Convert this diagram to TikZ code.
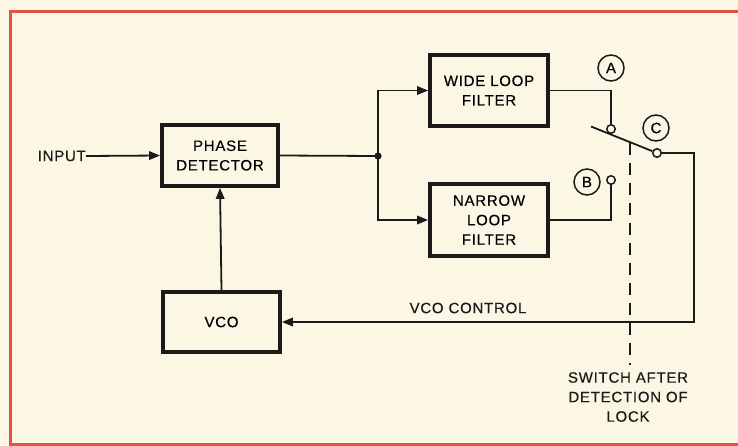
\documentclass[tikz,border=0pt]{standalone}
\usepackage{fontspec}
\setmainfont[LetterSpace=5,FakeBold=0.4]{Liberation Sans}
\usetikzlibrary{arrows.meta}
\definecolor{paper}{HTML}{FBF7E4}
\definecolor{frame}{HTML}{E0553F}
\definecolor{ink}{HTML}{1C1A18}
\newcommand\dlabel{\fontsize{15}{19.5}\selectfont}
\begin{document}
\begin{tikzpicture}[x=1pt,y=-1pt,
  box/.style={draw=ink,line width=3.8pt,inner sep=0pt,align=center,font=\dlabel},
  conn/.style={draw=ink,line width=1.8pt},
  arr/.style={conn,-{Triangle[length=11pt,width=8.5pt]}},
  contact/.style={circle,draw=ink,line width=1.5pt,minimum size=8.5pt,inner sep=0pt,fill=paper},
  tag/.style={circle,draw=ink,line width=1.5pt,minimum size=26pt,inner sep=0pt,font=\dlabel},
  txt/.style={font=\dlabel,text=ink,align=center,inner sep=0pt},
  lockdash/.style={draw=ink,line width=1.9pt,dash pattern=on 12pt off 8pt}]
\useasboundingbox (0,0) rectangle (738,445);
\fill[paper] (0,0) rectangle (738,445);
\clip (0,0) rectangle (738,445);
\draw[frame,line width=3pt] (10,11) rectangle (748,444);

% blocks
\node[box,minimum width=116pt,minimum height=61pt] (pd) at (220,155.5) {PHASE\\DETECTOR};
\node[box,minimum width=117pt,minimum height=60pt] (vco) at (221.5,322) {VCO};
\node[box,minimum width=118pt,minimum height=71pt] (wide) at (489,90.5) {WIDE LOOP\\FILTER};
\node[box,minimum width=118pt,minimum height=72pt] (narrow) at (489,220) {NARROW\\LOOP\\FILTER};

% input
\node[txt,anchor=east] (in) at (86,156) {INPUT};
\draw[arr] (in.east) -- (pd.west);

% split
\coordinate (j) at (378,156);
\draw[conn] (pd.east) -- (j);
\fill[ink] (j) circle (3.6pt);
\draw[arr] (j) |- (wide.west);
\draw[arr] (j) |- (narrow.west);

% switch contacts
\node[contact] (ca) at (611,129) {};
\node[contact] (cb) at (611,180) {};
\node[contact] (cc) at (657,153) {};
\node[tag] (ta) at (611,68) {A};
\node[tag] (tb) at (587,182) {B};
\node[tag] (tc) at (656,128) {C};

\draw[conn] (wide.east) -| (ca.north);
\draw[conn] (narrow.east) -| (cb.south);

% blade
\coordinate (bl) at (591,126.5);
\draw[conn] (bl) -- (cc);

% dashed actuator
\coordinate (dtop) at (630,143);
\coordinate (dbot) at (630,365);
\draw[lockdash] (dtop) -- (dbot);

% feedback
\coordinate (rc) at (694,322);
\draw[arr] (cc.east) -| (rc) -- (vco.east);
\draw[arr] (vco.north) -- (pd.south);

% labels
\node[txt] (vcoc) at (468,308) {VCO CONTROL};
\node[txt] (sw) at (628,397) {SWITCH AFTER\\DETECTION OF\\LOCK};
\end{tikzpicture}
\end{document}
